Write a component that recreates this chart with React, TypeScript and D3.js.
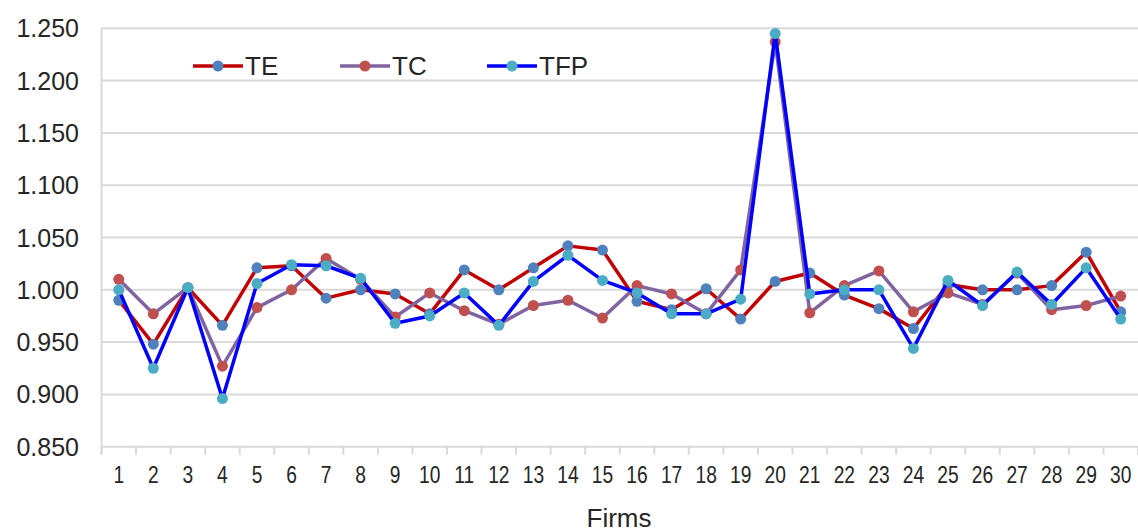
import React from "react";
import * as d3 from "d3";

// Efficiency indices per firm
const firms: string[] = Array.from({ length: 30 }, (_, i) => String(i + 1));

const teValues: number[] = [
  0.990, 0.948, 1.002, 0.966, 1.021, 1.023, 0.992, 1.000, 0.996, 0.977,
  1.019, 1.000, 1.021, 1.042, 1.038, 0.989, 0.981, 1.001, 0.972, 1.008,
  1.016, 0.995, 0.982, 0.963, 1.005, 1.000, 1.000, 1.004, 1.036, 0.979,
];

const tcValues: number[] = [
  1.010, 0.977, 1.002, 0.927, 0.983, 1.000, 1.030, 1.010, 0.974, 0.997,
  0.980, 0.967, 0.985, 0.990, 0.973, 1.004, 0.996, 0.977, 1.019, 1.237,
  0.978, 1.004, 1.018, 0.979, 0.997, 0.986, 1.016, 0.981, 0.985, 0.994,
];

const tfpValues: number[] = [
  1.000, 0.925, 1.002, 0.896, 1.006, 1.024, 1.023, 1.011, 0.968, 0.975,
  0.997, 0.966, 1.008, 1.033, 1.009, 0.997, 0.977, 0.977, 0.991, 1.245,
  0.996, 1.000, 1.000, 0.944, 1.009, 0.985, 1.017, 0.986, 1.021, 0.972,
];

const yTicks: number[] = [0.85, 0.9, 0.95, 1.0, 1.05, 1.1, 1.15, 1.2, 1.25];

const seriesNames: string[] = ["TE", "TC", "TFP"];
const lineColors: string[] = ["#C00000", "#8064A2", "#0000FF"];
const markerColors: string[] = ["#4F81BD", "#C0504D", "#4BACC6"];

const W = 1138;
const H = 532;
const plotLeft = 101.5;
const plotRight = 1138;
const plotTop = 28.3;
const plotBottom = 446.7;

const FONT = "Arial, 'Liberation Sans', Helvetica, sans-serif";
const TEXT = "#262626";
const GRID = "#D9D9D9";

export default function App() {
  const x = d3.scaleBand<string>().domain(firms).range([plotLeft, plotRight]);
  const y = d3.scaleLinear().domain([0.85, 1.25]).range([plotBottom, plotTop]);
  const cx = (f: string) => (x(f) ?? 0) + x.bandwidth() / 2;

  const series = [teValues, tcValues, tfpValues];
  const line = d3
    .line<number>()
    .x((_, i) => cx(firms[i]))
    .y((v) => y(v));

  const tickEdges = firms.map((f) => x(f) ?? 0).concat([plotRight]);

  const legendX = [193, 340, 487];
  const legendY = 66;

  return (
    <div style={{ position: "absolute", left: 0, top: 0 }}>
      <svg width={W} height={H} style={{ display: "block", background: "#fff" }}>
        {/* horizontal gridlines */}
        {yTicks.map((t) => (
          <line
            key={"g" + t}
            x1={plotLeft}
            x2={plotRight}
            y1={y(t)}
            y2={y(t)}
            stroke={GRID}
            strokeWidth={2}
          />
        ))}
        {/* y axis line */}
        <line x1={plotLeft} x2={plotLeft} y1={plotTop} y2={plotBottom + 8} stroke={GRID} strokeWidth={2} />
        {/* x tick marks */}
        {tickEdges.map((tx, i) => (
          <line key={"t" + i} x1={tx} x2={tx} y1={plotBottom} y2={plotBottom + 8} stroke={GRID} strokeWidth={2} />
        ))}
        {/* y tick labels */}
        {yTicks.map((t) => (
          <text
            key={"yl" + t}
            x={79}
            y={y(t)}
            dy="0.36em"
            textAnchor="end"
            fontFamily={FONT}
            fontSize={25}
            fill={TEXT}
          >
            {d3.format(".3f")(t)}
          </text>
        ))}
        {/* x tick labels */}
        {firms.map((f) => (
          <text
            key={"xl" + f}
            transform={`translate(${cx(f)},483) scale(0.8,1)`}
            textAnchor="middle"
            fontFamily={FONT}
            fontSize={24}
            fill={TEXT}
          >
            {f}
          </text>
        ))}
        {/* axis title */}
        <text x={619} y={527} textAnchor="middle" fontFamily={FONT} fontSize={26} fill={TEXT}>
          Firms
        </text>
        {/* series */}
        {series.map((vals, si) => (
          <g key={"s" + si}>
            <path d={line(vals) ?? ""} fill="none" stroke={lineColors[si]} strokeWidth={3.5} strokeLinejoin="round" />
            {vals.map((v, i) => (
              <circle key={i} cx={cx(firms[i])} cy={y(v)} r={5.5} fill={markerColors[si]} />
            ))}
          </g>
        ))}
        {/* legend */}
        {seriesNames.map((name, i) => (
          <g key={"lg" + name}>
            <line
              x1={legendX[i]}
              x2={legendX[i] + 50}
              y1={legendY}
              y2={legendY}
              stroke={lineColors[i]}
              strokeWidth={3.5}
            />
            <circle cx={legendX[i] + 25} cy={legendY} r={5.5} fill={markerColors[i]} />
            <text
              x={legendX[i] + 52}
              y={legendY}
              dy="0.36em"
              fontFamily={FONT}
              fontSize={26}
              fill={TEXT}
            >
              {name}
            </text>
          </g>
        ))}
      </svg>
    </div>
  );
}
